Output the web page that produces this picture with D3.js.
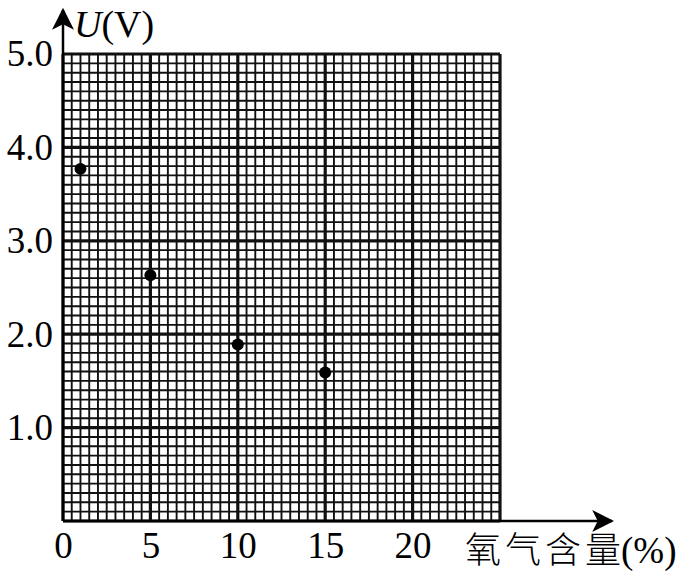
<!DOCTYPE html>
<html><head><meta charset="utf-8">
<script src="https://cdn.jsdelivr.net/npm/d3@7"></script>
<style>html,body{margin:0;padding:0;background:#fff;}</style>
</head><body>
<svg id="c" width="678" height="577"></svg>
<script>
const oxygen = [1, 5, 10, 15];
const voltage = [3.77, 2.63, 1.89, 1.59];
const xTickLabels = [0, 5, 10, 15, 20];
const yTickLabels = [1.0, 2.0, 3.0, 4.0, 5.0];
const xMax = 25, yMax = 5;

const svg = d3.select("#c");
const L = 63, R = 500, T = 54, B = 521;
const x = d3.scaleLinear().domain([0, xMax]).range([L, R]);
const y = d3.scaleLinear().domain([0, yMax]).range([B, T]);

const g = svg.append("g");
// minor grid
const xMinor = d3.range(0, 51).map(i => i * 0.5);
const yMinor = d3.range(0, 51).map(i => i / 10);
g.selectAll(".vx").data(xMinor).join("line")
  .attr("x1", d => x(d)).attr("x2", d => x(d)).attr("y1", y(0)).attr("y2", y(yMax))
  .attr("stroke", "#111").attr("stroke-width", d => (Math.round(d*2) % 10 === 0) ? 3.2 : 1.9);
g.selectAll(".hy").data(yMinor).join("line")
  .attr("y1", d => y(d)).attr("y2", d => y(d)).attr("x1", x(0)).attr("x2", x(xMax))
  .attr("stroke", "#111").attr("stroke-width", d => (Math.round(d*10) % 10 === 0) ? 3.2 : 1.9);

// axes with arrows
svg.append("defs").append("marker").attr("id", "arr")
  .attr("viewBox", "0 0 10 10").attr("refX", 9).attr("refY", 5)
  .attr("markerWidth", 22).attr("markerHeight", 22).attr("markerUnits", "userSpaceOnUse")
  .attr("orient", "auto")
  .append("path").attr("d", "M0,0 L10,5 L0,10 L2.5,5 Z").attr("fill", "#000");
svg.append("line").attr("x1", x(0)).attr("y1", y(0)).attr("x2", x(0)).attr("y2", 10)
  .attr("stroke", "#000").attr("stroke-width", 2.5).attr("marker-end", "url(#arr)");
svg.append("line").attr("x1", x(0)).attr("y1", y(0)).attr("x2", 612).attr("y2", y(0))
  .attr("stroke", "#000").attr("stroke-width", 2.5).attr("marker-end", "url(#arr)");

// tick labels
const yAxis = d3.axisLeft(y).tickValues(yTickLabels).tickFormat(d3.format(".1f")).tickSize(0).tickPadding(10);
const ya = svg.append("g").attr("transform", `translate(${x(0)},0)`).call(yAxis);
ya.select(".domain").remove();
ya.selectAll("text").attr("font-family", "Liberation Serif").attr("font-size", 37).attr("fill", "#000");

const xAxis = d3.axisBottom(x).tickValues(xTickLabels).tickFormat(d3.format("d")).tickSize(0).tickPadding(11);
const xa = svg.append("g").attr("transform", `translate(0,${y(0)})`).call(xAxis);
xa.select(".domain").remove();
xa.selectAll("text").attr("font-family", "Liberation Serif").attr("font-size", 37).attr("fill", "#000");

// axis titles
const yt = svg.append("text").attr("x", 74).attr("y", 37).attr("font-family", "Liberation Serif").attr("font-size", 38).attr("fill", "#000");
yt.append("tspan").attr("font-style", "italic").text("U");
yt.append("tspan").text("(V)");

const xt = svg.append("text").attr("x", 465).attr("y", 563).attr("fill", "#000");
xt.append("tspan").attr("font-family", "Noto Sans CJK SC").attr("font-weight", 300).attr("font-size", 36).attr("letter-spacing", 4).text("氧气含量");
xt.append("tspan").attr("font-family", "Liberation Serif").attr("font-size", 37).attr("dx", -4).text("(%)");

// data points
svg.selectAll(".pt").data(oxygen.map((o, i) => [o, voltage[i]])).join("circle")
  .attr("cx", d => x(d[0])).attr("cy", d => y(d[1])).attr("r", 6).attr("fill", "#000");
</script>
</body></html>
